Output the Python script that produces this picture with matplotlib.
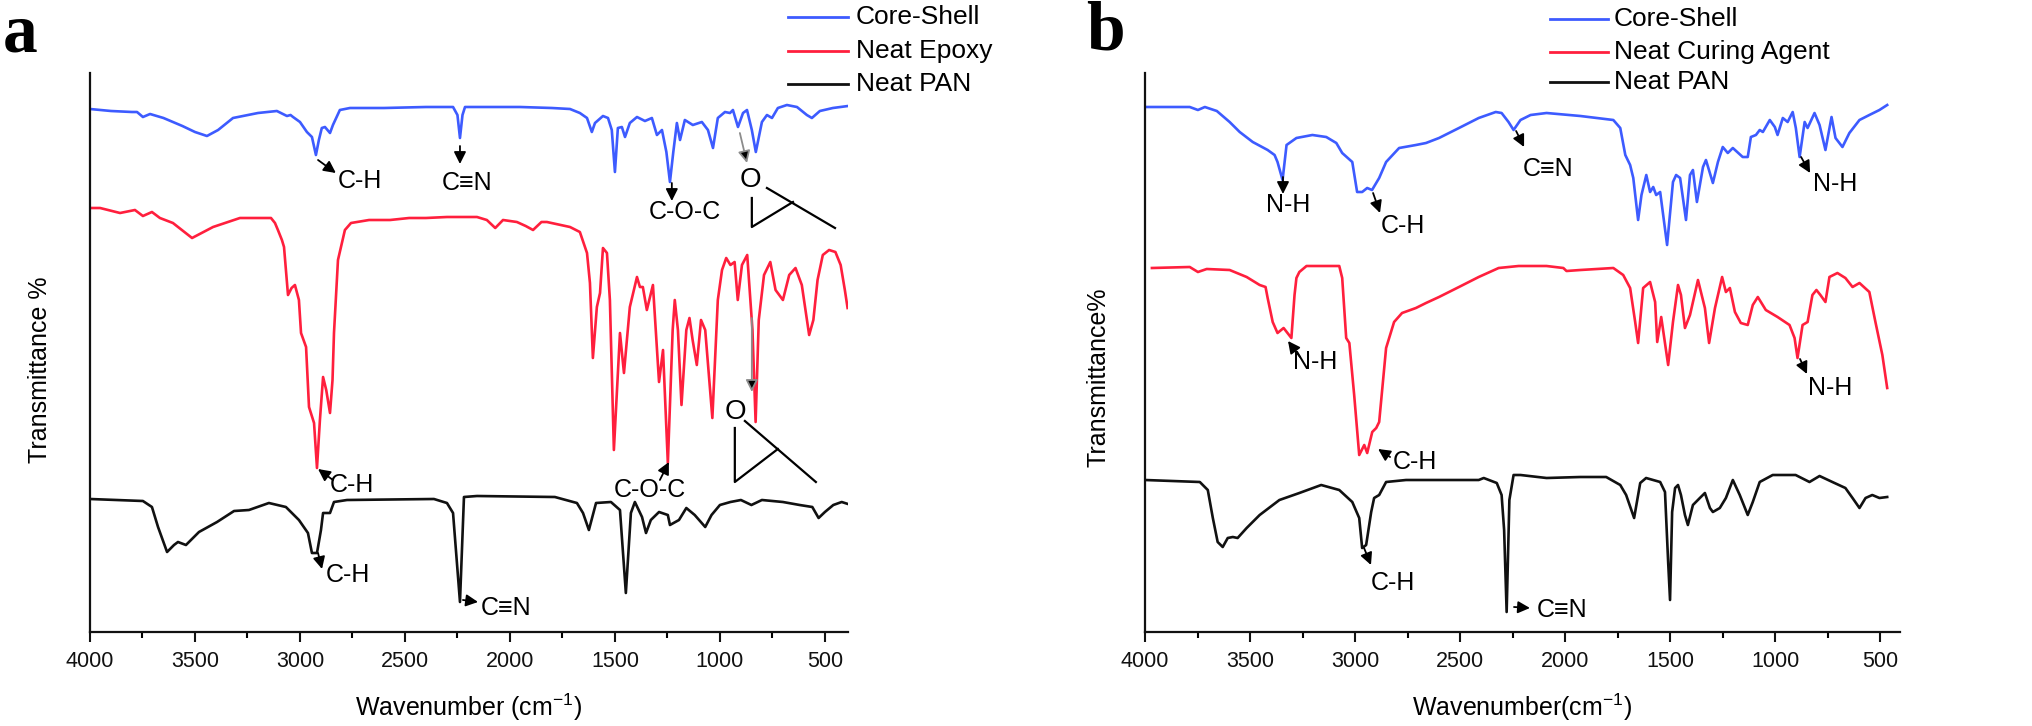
import matplotlib
matplotlib.use("Agg")
import matplotlib.pyplot as plt
from matplotlib.lines import Line2D
from matplotlib.ticker import MultipleLocator

plt.rcParams['font.family'] = ['Liberation Sans', 'DejaVu Sans']
plt.rcParams['mathtext.fontset'] = 'custom'
plt.rcParams['mathtext.rm'] = 'Liberation Sans'

# ---------------- data (wavenumber cm-1, transmittance a.u.) ----------------
a_blue_w = [4000, 3900, 3800, 3776, 3748, 3714, 3650, 3560, 3500, 3443, 3390, 3319, 3200, 3110, 3062, 3045,
            3033, 3000, 2967, 2943, 2924, 2910, 2896, 2881, 2857, 2843, 2810, 2762, 2600, 2400, 2271, 2250,
            2238, 2226, 2214, 2100, 1952, 1800, 1714, 1667, 1633, 1610, 1595, 1557, 1533, 1515, 1500, 1486,
            1467, 1452, 1429, 1395, 1357, 1324, 1300, 1276, 1255, 1238, 1222, 1205, 1190, 1167, 1129, 1086,
            1057, 1033, 1010, 976, 952, 938, 914, 890, 871, 848, 829, 800, 776, 752, 724, 681, 633, 586,
            562, 524, 462, 390]
a_blue_t = [523, 521, 520, 520, 515, 518, 514, 506, 500, 496, 502, 514, 519, 521, 516, 517,
            515, 510, 500, 495, 477, 492, 504, 505, 499, 507, 522, 524, 524, 525, 525, 517,
            494, 517, 525, 525, 525, 524, 523, 519, 514, 500, 509, 516, 514, 502, 460, 504,
            505, 495, 509, 515, 511, 514, 497, 502, 480, 450, 480, 509, 492, 512, 507, 510,
            502, 484, 514, 520, 519, 522, 505, 519, 522, 502, 480, 510, 517, 514, 524, 527, 525, 517,
            514, 521, 524, 526]

a_red_w = [4000, 3952, 3857, 3786, 3748, 3705, 3667, 3605, 3514, 3414, 3286, 3176, 3138, 3119, 3105, 3086,
           3076, 3057, 3040, 3024, 3005, 2995, 2971, 2957, 2933, 2919, 2905, 2890, 2875, 2857, 2845, 2838,
           2819, 2786, 2757, 2671, 2571, 2480, 2400, 2300, 2190, 2157, 2110, 2070, 2033, 1967, 1925, 1890,
           1850, 1824, 1714, 1667, 1633, 1619, 1605, 1586, 1571, 1557, 1538, 1524, 1505, 1476, 1457, 1429,
           1395, 1381, 1367, 1348, 1319, 1290, 1271, 1248, 1225, 1215, 1200, 1183, 1160, 1145, 1130, 1110,
           1090, 1070, 1036, 1010, 990, 970, 950, 930, 915, 895, 870, 845, 830, 815, 790, 760, 735, 700,
           670, 640, 610, 575, 555, 535, 510, 480, 450, 425, 405, 392]
a_red_t = [424, 424, 419, 422, 416, 420, 414, 409, 394, 405, 414, 414, 414, 409, 402, 392,
           385, 337, 344, 347, 332, 299, 285, 225, 209, 164, 212, 255, 242, 219, 252, 299,
           372, 402, 409, 412, 412, 414, 414, 415, 415, 415, 412, 404, 412, 410, 406, 402,
           410, 410, 405, 400, 379, 349, 274, 325, 339, 384, 379, 332, 182, 299, 259, 325,
           355, 345, 345, 322, 347, 250, 282, 169, 302, 332, 302, 227, 302, 314, 292, 267,
           312, 302, 214, 332, 362, 374, 367, 370, 332, 367, 377, 302, 210, 312, 357, 370, 342, 332,
           357, 364, 347, 297, 312, 352, 377, 382, 380, 367, 342, 324]

a_pan_w = [4000, 3748, 3705, 3676, 3633, 3600, 3581, 3543, 3481, 3395, 3314, 3243, 3148, 3067, 3005, 2962,
           2943, 2919, 2900, 2890, 2857, 2838, 2776, 2362, 2300, 2271, 2238, 2219, 2157, 1786, 1681, 1652,
           1624, 1590, 1519, 1476, 1448, 1424, 1405, 1371, 1352, 1329, 1290, 1248, 1238, 1195, 1160, 1120,
           1070, 1040, 1000, 950, 900, 850, 800, 700, 620, 560, 530, 500, 460, 420, 390]
a_pan_t = [133, 131, 125, 105, 80, 87, 90, 87, 100, 110, 121, 122, 129, 125, 112, 99,
           79, 79, 102, 119, 119, 130, 132, 133, 129, 119, 30, 135, 136, 135, 129, 119,
           102, 129, 130, 122, 39, 119, 130, 115, 99, 112, 120, 117, 107, 112, 124, 117,
           105, 117, 127, 130, 132, 127, 132, 130, 127, 125, 114, 120, 127, 130, 128]

b_blue_w = [4000, 3787, 3748, 3715, 3658, 3597, 3549, 3487, 3416, 3383, 3369, 3345, 3326, 3279, 3203, 3137,
            3089, 3061, 3013, 2990, 2966, 2942, 2919, 2885, 2852, 2790, 2710, 2662, 2600, 2505, 2411, 2330,
            2302, 2269, 2245, 2212, 2164, 2088, 1927, 1770, 1737, 1713, 1690, 1675, 1652, 1636, 1613, 1595,
            1580, 1566, 1547, 1514, 1486, 1471, 1452, 1424, 1405, 1391, 1372, 1343, 1329, 1296, 1272, 1249,
            1225, 1201, 1154, 1130, 1115, 1091, 1073, 1058, 1025, 1001, 988, 963, 940, 916, 901, 883,
            859, 845, 812, 788, 760, 731, 712, 679, 646, 598, 551, 503, 466]
b_blue_t = [525, 525, 522, 525, 521, 510, 500, 490, 482, 477, 470, 452, 487, 494, 497, 495,
            489, 479, 470, 440, 440, 444, 442, 454, 470, 484, 487, 489, 494, 504, 514, 520,
            519, 510, 502, 512, 517, 519, 516, 512, 504, 477, 467, 454, 412, 437, 457, 440,
            445, 437, 440, 387, 450, 457, 454, 412, 457, 462, 430, 465, 472, 449, 470, 485,
            479, 484, 475, 475, 495, 497, 502, 500, 512, 505, 497, 514, 510, 520, 504, 475,
            510, 504, 519, 507, 482, 515, 494, 485, 499, 512, 517, 522, 527]

b_red_w = [3967, 3787, 3748, 3706, 3597, 3516, 3454, 3426, 3416, 3392, 3369, 3340, 3303, 3288, 3279, 3265,
           3231, 3075, 3061, 3042, 3027, 3004, 2980, 2956, 2942, 2918, 2899, 2885, 2852, 2814, 2776, 2710,
           2662, 2600, 2505, 2411, 2316, 2221, 2088, 2008, 1993, 1927, 1770, 1723, 1690, 1666, 1652, 1628,
           1595, 1571, 1561, 1542, 1509, 1486, 1462, 1448, 1429, 1405, 1367, 1334, 1314, 1286, 1252, 1234,
           1215, 1191, 1163, 1130, 1106, 1082, 1044, 988, 931, 907, 893, 869, 845, 822, 803, 784,
           760, 741, 703, 665, 631, 598, 551, 522, 489, 466]
b_red_t = [364, 365, 360, 363, 362, 355, 347, 345, 334, 310, 299, 304, 294, 337, 354, 360,
           366, 366, 354, 294, 289, 237, 177, 187, 179, 200, 204, 210, 284, 310, 319, 324,
           329, 335, 345, 355, 364, 366, 366, 364, 361, 362, 364, 357, 344, 310, 289, 344,
           350, 330, 290, 315, 267, 310, 347, 337, 304, 317, 352, 324, 289, 324, 355, 340,
           344, 320, 309, 307, 327, 335, 322, 315, 307, 294, 274, 307, 310, 337, 342, 337,
           330, 355, 359, 354, 345, 349, 340, 310, 277, 244]

b_pan_w = [4000, 3739, 3701, 3677, 3654, 3630, 3606, 3582, 3559, 3516, 3454, 3360, 3265, 3161, 3075, 3013,
           2980, 2966, 2947, 2923, 2909, 2885, 2852, 2757, 2411, 2387, 2325, 2302, 2290, 2278, 2265, 2245,
           2212, 2088, 1927, 1804, 1737, 1709, 1671, 1642, 1614, 1547, 1524, 1509, 1500, 1490, 1476, 1462,
           1448, 1429, 1415, 1391, 1358, 1334, 1310, 1296, 1263, 1234, 1201, 1168, 1130, 1106, 1073, 1011,
           902, 836, 788, 727, 665, 631, 598, 569, 537, 503, 466]
b_pan_t = [152, 150, 142, 114, 90, 85, 94, 95, 94, 104, 117, 132, 139, 147, 142, 130,
           114, 84, 87, 120, 134, 137, 150, 152, 152, 154, 149, 137, 102, 20, 132, 157,
           157, 154, 155, 155, 147, 137, 114, 149, 154, 150, 140, 70, 32, 120, 144, 147,
           137, 117, 107, 127, 134, 139, 124, 120, 124, 134, 152, 137, 117, 130, 150, 157,
           157, 150, 156, 150, 144, 134, 124, 134, 137, 134, 135]

xticks = [4000, 3500, 3000, 2500, 2000, 1500, 1000, 500]
a_labels = ["Core-Shell", "Neat Epoxy", "Neat PAN"]
b_labels = ["Core-Shell", "Neat Curing Agent", "Neat PAN"]

BLUE = '#3d5bff'
RED = '#ff1f3d'
BLACK = '#111111'
colors = [BLUE, RED, BLACK]

W, H = 2032, 726
fig = plt.figure(figsize=(W / 100, H / 100), dpi=100)


def px(x, y):
    return x / W, 1 - y / H


def make_axes(left_px, right_px, xmax):
    ax = fig.add_axes([left_px / W, 94 / H, (right_px - left_px) / W, 559 / H])
    ax.set_xlim(4000, xmax)
    ax.set_ylim(0, 559)
    for s in ['top', 'right']:
        ax.spines[s].set_visible(False)
    for s in ['left', 'bottom']:
        ax.spines[s].set_linewidth(1.6)
        ax.spines[s].set_color('#111111')
    ax.set_yticks([])
    ax.set_xticks(xticks)
    ax.xaxis.set_minor_locator(MultipleLocator(250))
    ax.tick_params(axis='x', which='major', direction='out', length=7.5, width=1.5, labelsize=15.5, pad=6,
                   colors='#111111')
    ax.tick_params(axis='x', which='minor', direction='out', length=4.5, width=1.5)
    return ax


def arrow(ax, tail, tip, ec='black'):
    ax.annotate('', xy=tip, xytext=tail,
                arrowprops=dict(arrowstyle='-|>', ec=ec, fc='black', lw=1.3,
                                mutation_scale=18, shrinkA=0, shrinkB=0), annotation_clip=False)


def label(ax, x, y, s, size=18):
    ax.text(x, y, s, ha='center', va='center', fontsize=size, color='black', clip_on=False)


# ---------------- panel a ----------------
ax1 = make_axes(90, 848, 390)
ax1.plot(a_blue_w, a_blue_t, color=BLUE, lw=1.9)
ax1.plot(a_red_w, a_red_t, color=RED, lw=1.9)
ax1.plot(a_pan_w, a_pan_t, color=BLACK, lw=1.9)
ax1.set_xlabel('Wavenumber (cm$^{\\mathregular{-1}}$)', fontsize=18, va='center')
ax1.xaxis.set_label_coords(0.5, -75 / 559)
ax1.set_ylabel('Transmittance %', fontsize=18, va='center')
ax1.yaxis.set_label_coords(-50 / 758, 262 / 559)

# blue annotations
arrow(ax1, (2914, 472), (2829, 459)); label(ax1, 2714, 451, 'C-H')
arrow(ax1, (2238, 486), (2238, 468)); label(ax1, 2205, 449, 'C≡N')
arrow(ax1, (1229, 449), (1229, 431)); label(ax1, 1167, 420, 'C-O-C')
arrow(ax1, (905, 499), (871, 469), ec='0.55')
label(ax1, 857, 452, 'O', size=20)
ax1.plot([848, 848, 652], [434, 405, 430], color='black', lw=1.6, clip_on=False)
ax1.plot([776, 452], [444, 404], color='black', lw=1.6, clip_on=False)
# red annotations
arrow(ax1, (2843, 152), (2914, 163)); label(ax1, 2752, 147, 'C-H')
arrow(ax1, (1286, 152), (1243, 170)); label(ax1, 1333, 142, 'C-O-C')
arrow(ax1, (848, 314), (848, 240), ec='0.55')
label(ax1, 924, 220, 'O', size=20)
ax1.plot([929, 929, 724], [204, 150, 183], color='black', lw=1.6, clip_on=False)
ax1.plot([881, 543], [211, 150], color='black', lw=1.6, clip_on=False)
# PAN annotations
arrow(ax1, (2914, 79), (2895, 63)); label(ax1, 2771, 57, 'C-H')
arrow(ax1, (2224, 32), (2152, 30)); label(ax1, 2019, 24, 'C≡N')

# ---------------- panel b ----------------
ax2 = make_axes(1145, 1900, 405)
ax2.plot(b_blue_w, b_blue_t, color=BLUE, lw=1.9)
ax2.plot(b_red_w, b_red_t, color=RED, lw=1.9)
ax2.plot(b_pan_w, b_pan_t, color=BLACK, lw=1.9)
ax2.set_xlabel('Wavenumber(cm$^{\\mathregular{-1}}$)', fontsize=18, va='center')
ax2.xaxis.set_label_coords(0.5, -75 / 559)
ax2.set_ylabel('Transmittance%', fontsize=18, va='center')
ax2.yaxis.set_label_coords(-47 / 755, 255 / 559)

arrow(ax2, (3343, 455), (3343, 438)); label(ax2, 3319, 427, 'N-H')
arrow(ax2, (2914, 439), (2881, 419)); label(ax2, 2771, 406, 'C-H')
arrow(ax2, (2233, 501), (2195, 485)); label(ax2, 2081, 463, 'C≡N')
arrow(ax2, (876, 475), (833, 459)); label(ax2, 714, 448, 'N-H')
arrow(ax2, (3262, 275), (3319, 291)); label(ax2, 3190, 270, 'N-H')
arrow(ax2, (2833, 175), (2890, 183)); label(ax2, 2714, 170, 'C-H')
arrow(ax2, (881, 273), (848, 258)); label(ax2, 738, 244, 'N-H')
arrow(ax2, (2957, 84), (2924, 67)); label(ax2, 2819, 49, 'C-H')
arrow(ax2, (2243, 25), (2167, 24)); label(ax2, 2014, 22, 'C≡N')

# ---------------- legends ----------------
def legend(x0, x1, xt, rows, labels):
    for (yy, lab, c) in zip(rows, labels, colors):
        fig.add_artist(Line2D([x0 / W, x1 / W], [1 - yy / H, 1 - yy / H], color=c, lw=2.0,
                              transform=fig.transFigure))
        fig.text(xt / W, 1 - yy / H, lab, ha='left', va='center', fontsize=19, color='black')


legend(788, 848, 856, [17, 51, 84], a_labels)
legend(1550, 1608, 1614, [19, 52, 82], b_labels)

# panel letters
fig.text(*px(3, 52), 'a', fontsize=50, family='Liberation Serif', weight='bold', ha='left', va='baseline')
fig.text(*px(1086, 50), 'b', fontsize=50, family='Liberation Serif', weight='bold', ha='left', va='baseline')

fig.savefig('out.png', dpi=100)
